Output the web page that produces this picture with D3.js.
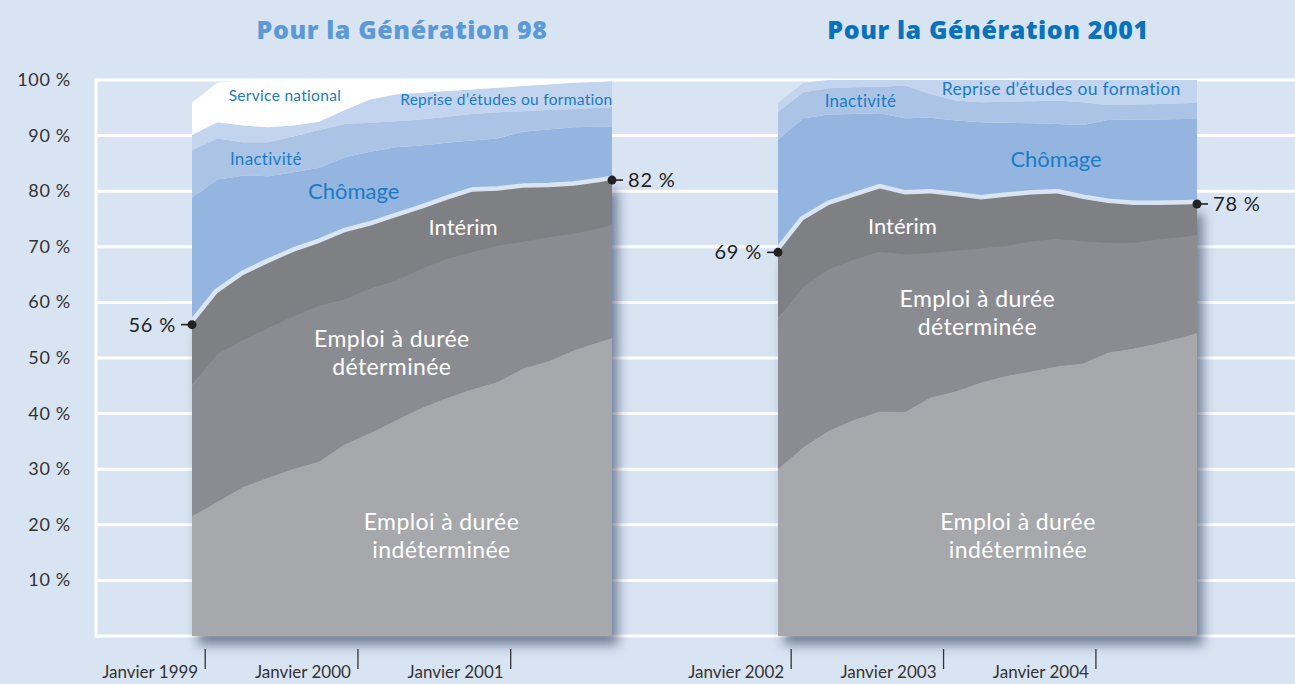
<!DOCTYPE html>
<html lang="fr">
<head>
<meta charset="utf-8">
<script src="https://cdn.jsdelivr.net/npm/d3@7"></script>
<style>
  body { margin: 0; background: #d9e4f3; }
  svg { display: block; font-family: Lato, "Open Sans", sans-serif; }
</style>
</head>
<body>
<svg id="chart" width="1295" height="684"></svg>
<script>
// mois écoulés depuis décembre de l'année de sortie (0 = décembre)
const mois = [0, 2, 4, 6, 8, 10, 12, 14, 16, 18, 20, 22, 24, 26, 28, 30, 32, 33];

// Génération 98 (en %)
const cdi98        = [21.5, 24.2, 26.8, 28.5, 30.1, 31.4, 34.5, 36.5, 38.8, 41.0, 42.8, 44.4, 45.7, 48.1, 49.4, 51.4, 52.9, 53.6];
const cdd98        = [23.6, 26.5, 26.4, 26.9, 27.4, 28.0, 26.0, 26.0, 25.1, 25.0, 25.0, 24.6, 24.5, 22.8, 22.3, 21.0, 20.4, 20.4];
const interim98    = [10.9, 11.0, 11.7, 11.7, 11.6, 11.3, 12.1, 11.3, 11.4, 10.8, 10.6, 10.9, 9.9, 9.7, 9.0, 8.6, 8.3, 8.0];
const chomage98    = [22.8, 20.4, 17.9, 15.6, 14.3, 13.5, 13.5, 13.3, 12.6, 11.4, 10.3, 9.2, 9.4, 10.1, 10.4, 10.5, 10.0, 9.7];
const inactivite98 = [8.6, 7.4, 6.0, 6.1, 6.5, 6.8, 6.0, 5.2, 4.7, 4.7, 4.7, 4.8, 4.7, 3.7, 3.5, 3.3, 3.4, 3.4];
const reprise98    = [2.7, 2.9, 3.0, 2.7, 1.9, 1.5, 2.5, 4.2, 4.8, 4.8, 4.6, 4.4, 4.4, 4.5, 4.6, 4.7, 4.7, 4.7];
const service98    = [5.8, 7.1, 8.2, 8.5, 8.2, 7.5, 5.4, 3.5, 2.6, 2.3, 2.0, 1.7, 1.4, 1.1, 0.8, 0.5, 0.3, 0.2];

// Génération 2001 (en %)
const cdi01        = [30.0, 34.0, 36.9, 38.9, 40.4, 40.3, 42.9, 44.0, 45.6, 46.8, 47.6, 48.5, 49.0, 51.0, 51.7, 52.7, 53.8, 54.5];
const cdd01        = [27.0, 28.8, 29.0, 28.8, 28.7, 28.3, 26.0, 25.3, 24.1, 23.3, 23.4, 22.9, 22.0, 19.7, 19.0, 18.6, 18.0, 17.6];
const interim01    = [12.0, 12.0, 11.6, 11.3, 11.4, 10.8, 10.7, 9.8, 8.8, 8.9, 8.4, 8.2, 7.6, 7.2, 6.8, 6.2, 5.8, 5.6];
const chomage01    = [20.3, 18.3, 16.3, 14.9, 13.5, 13.7, 13.6, 13.6, 13.9, 13.3, 12.8, 12.5, 13.3, 14.9, 15.4, 15.4, 15.4, 15.3];
const inactivite01 = [5.0, 4.7, 4.7, 4.8, 4.8, 5.9, 4.3, 3.6, 3.6, 3.8, 4.0, 4.2, 4.1, 2.7, 2.7, 2.8, 2.8, 2.9];
const reprise01    = [1.6, 1.7, 1.5, 1.3, 1.2, 1.0, 2.5, 3.7, 4.0, 3.9, 3.8, 3.7, 4.0, 4.5, 4.4, 4.3, 4.2, 4.1];
const service01    = [0, 0, 0, 0, 0, 0, 0, 0, 0, 0, 0, 0, 0, 0, 0, 0, 0, 0];

const yTicks = [10, 20, 30, 40, 50, 60, 70, 80, 90, 100];
const xTicks = [1, 13, 25];
const xLabels98 = ["Janvier 1999", "Janvier 2000", "Janvier 2001"];
const xLabels01 = ["Janvier 2002", "Janvier 2003", "Janvier 2004"];

const keys = ["cdi", "cdd", "interim", "chomage", "inactivite", "reprise", "service"];
const emploi = ["cdi", "cdd", "interim"];
const colors = {
  cdi: "#a7a8ac", cdd: "#8b8c91", interim: "#7f8084",
  chomage: "#94b5df", inactivite: "#abc4e6", reprise: "#c2d4ee", service: "#ffffff"
};

const W = 1295, H = 684;
const svg = d3.select("#chart");

const y = d3.scaleLinear().domain([0, 100]).range([636, 80]);

// drop shadow under the employment block
const defs = svg.append("defs");
defs.append("filter").attr("id", "ombre")
    .attr("x", "-10%").attr("y", "-10%").attr("width", "130%").attr("height", "130%")
  .append("feDropShadow")
    .attr("dx", 6).attr("dy", 9).attr("stdDeviation", 6)
    .attr("flood-color", "#2e3d5a").attr("flood-opacity", 0.6);

svg.append("rect").attr("width", W).attr("height", H).attr("fill", "#d9e4f3");

// grid
svg.append("g").selectAll("line")
    .data([0].concat(yTicks))
    .enter().append("line")
    .attr("x1", 96).attr("x2", W)
    .attr("y1", d => y(d)).attr("y2", d => y(d))
    .attr("stroke", "#fff").attr("stroke-width", 3);
svg.append("line")
    .attr("x1", 96).attr("x2", 96).attr("y1", y(100) - 1.5).attr("y2", y(0) + 1.5)
    .attr("stroke", "#fff").attr("stroke-width", 3);

svg.append("g").selectAll("text")
    .data(yTicks)
    .enter().append("text")
    .attr("x", 71).attr("y", d => y(d) + 6)
    .attr("text-anchor", "end")
    .attr("font-size", 18).attr("letter-spacing", 0.7).attr("fill", "#333")
    .text(d => d + " %");

function drawPanel(p) {
  const x = d3.scaleLinear().domain([0, 33]).range(p.range);

  const table = mois.map((m, i) => {
    const row = { mois: m };
    keys.forEach(k => row[k] = p.series[k][i]);
    return row;
  });
  const stacked = d3.stack().keys(keys)(table);

  const area = d3.area()
      .x(d => x(d.data.mois))
      .y0(d => y(d[0]))
      .y1(d => y(d[1]));

  const g = svg.append("g");

  g.selectAll(".haut")
      .data(stacked.filter(s => emploi.indexOf(s.key) < 0))
      .enter().append("path")
      .attr("d", area)
      .attr("fill", d => colors[d.key]);

  // light edge above the employment block
  const top = stacked.find(s => s.key === "interim");
  g.append("path")
      .datum(top)
      .attr("d", d3.line().x(d => x(d.data.mois)).y(d => y(d[1])))
      .attr("fill", "none")
      .attr("stroke", "#dce7f5")
      .attr("stroke-width", 9)
      .attr("stroke-linejoin", "round");

  const emp = g.append("g").attr("filter", "url(#ombre)");
  emp.selectAll("path")
      .data(stacked.filter(s => emploi.indexOf(s.key) >= 0))
      .enter().append("path")
      .attr("d", area)
      .attr("fill", d => colors[d.key]);

  // title
  svg.append("text")
      .attr("x", p.titleX).attr("y", 39)
      .attr("text-anchor", "middle")
      .attr("font-family", "'Open Sans', sans-serif")
      .attr("font-weight", 800).attr("font-size", 25)
      .attr("letter-spacing", 0.6)
      .attr("fill", p.titleColor)
      .text(p.title);

  // x axis
  const ax = svg.append("g")
      .attr("transform", "translate(0,649)")
      .call(d3.axisBottom(x).tickValues(xTicks).tickSize(20).tickFormat((d, i) => p.xLabels[i]));
  ax.select(".domain").remove();
  ax.selectAll("line").attr("stroke", "#333").attr("stroke-width", 1.3);
  ax.selectAll("text")
      .attr("x", -7).attr("y", 17).attr("dy", "0.71em")
      .attr("text-anchor", "end")
      .attr("font-family", "Lato, sans-serif")
      .attr("font-size", 17).attr("fill", "#333");

  // labels inside the areas
  g.selectAll(".lab")
      .data(p.labels)
      .enter().append("text")
      .attr("x", d => x(d.m)).attr("y", d => y(d.p))
      .attr("text-anchor", "middle")
      .attr("font-size", d => d.size)
      .attr("letter-spacing", d => d.ls || 0)
      .attr("fill", d => d.color)
      .text(d => d.t);

  // start / end values
  const first = top[0], last = top[top.length - 1];
  [
    { d: first, side: -1 },
    { d: last, side: 1 }
  ].forEach(a => {
    const cx = x(a.d.data.mois), cy = y(a.d[1]);
    svg.append("line")
        .attr("x1", cx).attr("x2", cx + a.side * 11)
        .attr("y1", cy).attr("y2", cy)
        .attr("stroke", "#222").attr("stroke-width", 1.6);
    svg.append("circle").attr("cx", cx).attr("cy", cy).attr("r", 4.5).attr("fill", "#222");
    svg.append("text")
        .attr("x", cx + a.side * 16).attr("y", cy + 7)
        .attr("text-anchor", a.side < 0 ? "end" : "start")
        .attr("font-size", 20).attr("letter-spacing", 0.8).attr("fill", "#222")
        .text(Math.round(a.d[1]) + " %");
  });
}

const blue = "#1a7cc6";

drawPanel({
  range: [192, 612],
  title: "Pour la Génération 98",
  titleX: 402,
  titleColor: "#5b9ad6",
  xLabels: xLabels98,
  series: { cdi: cdi98, cdd: cdd98, interim: interim98, chomage: chomage98,
            inactivite: inactivite98, reprise: reprise98, service: service98 },
  labels: [
    { t: "Service national", m: 7.3, p: 96.2, size: 15.5, ls: 0.3, color: blue },
    { t: "Reprise d’études ou formation", m: 24.7, p: 95.5, size: 15.5, ls: 0.3, color: blue },
    { t: "Inactivité", m: 5.8, p: 84.7, size: 17, ls: 0.3, color: blue },
    { t: "Chômage", m: 12.7, p: 78.6, size: 22, color: blue },
    { t: "Intérim", m: 21.3, p: 72.1, size: 22, color: "#fff" },
    { t: "Emploi à durée", m: 15.7, p: 52.0, size: 23, ls: 0.4, color: "#fff" },
    { t: "déterminée", m: 15.7, p: 46.9, size: 23, ls: 0.4, color: "#fff" },
    { t: "Emploi à durée", m: 19.6, p: 19.1, size: 23, ls: 0.4, color: "#fff" },
    { t: "indéterminée", m: 19.6, p: 14.0, size: 23, ls: 0.4, color: "#fff" }
  ]
});

drawPanel({
  range: [778, 1197],
  title: "Pour la Génération 2001",
  titleX: 988,
  titleColor: "#0a72bb",
  xLabels: xLabels01,
  series: { cdi: cdi01, cdd: cdd01, interim: interim01, chomage: chomage01,
            inactivite: inactivite01, reprise: reprise01, service: service01 },
  labels: [
    { t: "Inactivité", m: 6.5, p: 95.1, size: 17, ls: 0.3, color: blue },
    { t: "Reprise d’études ou formation", m: 22.3, p: 97.3, size: 17.5, ls: 0.3, color: blue },
    { t: "Chômage", m: 21.9, p: 84.4, size: 22, color: blue },
    { t: "Intérim", m: 9.8, p: 72.3, size: 22, color: "#fff" },
    { t: "Emploi à durée", m: 15.7, p: 59.2, size: 23, ls: 0.4, color: "#fff" },
    { t: "déterminée", m: 15.7, p: 54.1, size: 23, ls: 0.4, color: "#fff" },
    { t: "Emploi à durée", m: 18.9, p: 19.1, size: 23, ls: 0.4, color: "#fff" },
    { t: "indéterminée", m: 18.9, p: 14.0, size: 23, ls: 0.4, color: "#fff" }
  ]
});
</script>
</body>
</html>
